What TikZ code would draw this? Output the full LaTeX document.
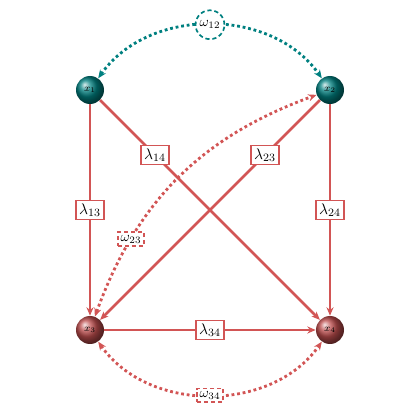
\documentclass[tikz,border=0pt]{standalone}
\usetikzlibrary{arrows.meta}

\definecolor{lred}{RGB}{210,85,85}

\begin{document}
\begin{tikzpicture}[
    >={Stealth[length=6pt,width=5pt]},
    ball/.style={circle, minimum size=0.7cm, inner sep=0pt, font=\scriptsize, text=black},
    lam/.style={draw=lred, fill=white, line width=1.2pt, inner sep=2.2pt, solid, text=black,
        font=\fontsize{11pt}{13pt}\selectfont},
    om/.style={densely dashed, line width=1.2pt, fill=white, inner sep=2pt, text=black},
    link/.style={->, draw=lred, line width=2pt},
    corr/.style={<->, dotted, line width=2pt}
]
\useasboundingbox (0,0) rectangle (10.5,10.5);

    % the four variables
    \node[ball, ball color=teal] (x1) at (2.25,8.25) {$x_1$};
    \node[ball, ball color=teal] (x2) at (8.25,8.25) {$x_2$};
    \node[ball, ball color=lred!90!black] (x3) at (2.25,2.25) {$x_3$};
    \node[ball, ball color=lred!90!black] (x4) at (8.25,2.25) {$x_4$};

    % directed links
    \draw[link] (x1) -- node[lam] {$\lambda_{13}$} (x3);
    \draw[link] (x1) -- node[lam, pos=0.25] {$\lambda_{14}$} (x4);
    \draw[link] (x2) -- node[lam, pos=0.25] {$\lambda_{23}$} (x3);
    \draw[link] (x2) -- node[lam] {$\lambda_{24}$} (x4);
    \draw[link] (x3) -- node[lam] {$\lambda_{34}$} (x4);

    % correlations
    \draw[corr, teal] (x1) to[bend left=55] node[om, circle, draw=teal, inner sep=1.8pt] {$\omega_{12}$} (x2);
    \draw[corr, lred] (x3) to[bend right=55] node[om, draw=lred] {$\omega_{34}$} (x4);
    \draw[corr, lred] (x3) to[bend left=25] node[om, draw=lred, pos=0.25] {$\omega_{23}$} (x2);

\end{tikzpicture}
\end{document}
